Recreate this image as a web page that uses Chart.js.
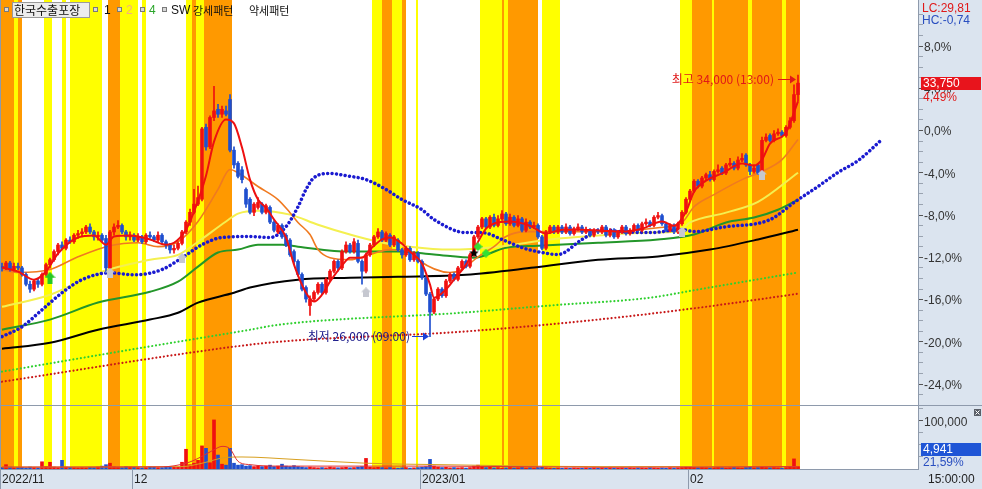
<!DOCTYPE html>
<html>
<head>
<meta charset="utf-8">
<script src="https://cdn.jsdelivr.net/npm/chart.js@4.4.1/dist/chart.umd.min.js"></script>
<style>
  html, body { margin: 0; padding: 0; background: #fff; }
  canvas { display: block; }
</style>
</head>
<body>
<canvas id="chart" width="982" height="489" style="width:982px;height:489px"></canvas>
<script>
// price that is shown as 0,0% on the right axis
const BASE = 32300;

// month labels on the time axis (bar index where each month starts)
const monthStarts = [0, 33, 105, 172];
const monthLabels = ['2022/11', '12', '2023/01', '02'];

// percent ticks of the price axis
const majorPct = [-24, -20, -16, -12, -8, -4, 0, 4, 8];

// candles: [open, high, low, close]
const candles = [
  [28150,28250,28000,28100],[28100,28300,28050,28250],[28250,28300,28000,28050],[28050,28250,28000,28150],[28150,28250,28050,28100],
  [28100,28150,27850,27900],[27900,27950,27550,27600],[27600,27700,27350,27450],[27450,27750,27400,27700],[27700,27750,27500,27600],
  [27600,27950,27550,27900],[27900,28250,27850,28200],[28200,28400,28100,28350],[28350,28650,28300,28600],[28600,28850,28500,28800],
  [28800,28900,28650,28700],[28700,29000,28650,28950],[28950,29050,28850,28900],[28900,29150,28850,29100],[29100,29250,29000,29150],
  [29150,29300,29050,29200],[29200,29400,29150,29350],[29350,29450,29150,29200],[29200,29250,28950,29050],[29050,29200,28950,29100],
  [29100,29150,28900,28950],[29000,29100,27950,28100],[28100,29250,28050,29200],[29200,29450,29100,29350],[29350,29550,29300,29400],
  [29400,29450,29150,29200],[29200,29250,28950,29050],[29050,29200,28950,29100],[29100,29150,28900,28950],[28950,29150,28900,29050],
  [29050,29100,28850,28900],[28900,29150,28850,29100],[29100,29200,29000,29050],[29050,29100,28900,28950],[28950,29200,28900,29100],
  [29100,29150,28850,28900],[28900,28950,28700,28800],[28800,28850,28550,28650],[28650,28800,28550,28700],[28700,28900,28650,28850],
  [28850,29250,28800,29200],[29200,29550,29150,29500],[29500,29900,29400,29800],[29800,30500,29750,30050],[30050,30600,30000,30250],
  [30200,32400,30150,32350],[32400,32500,31700,31800],[31800,32750,31750,32700],[32700,33650,32600,32900],[32950,33100,32700,32800],
  [32800,33050,32700,32950],[32900,33050,32750,32800],[33250,33400,31650,31700],[31700,31800,31150,31250],[31300,31350,30850,30900],
  [31100,31200,30700,30800],[30500,30550,29950,30050],[30200,30250,29750,29800],[29800,30100,29700,30050],[29950,30250,29900,30100],
  [30050,30100,29750,29800],[29800,30050,29750,30000],[29950,30000,29450,29500],[29500,29550,29200,29250],[29200,29450,29150,29400],
  [29400,29450,29000,29050],[29100,29150,28750,28800],[28950,29000,28450,28500],[28600,28650,28200,28300],[28300,28350,27850,27900],
  [27900,27950,27400,27450],[27500,27550,27050,27150],[26950,27250,26650,27150],[27150,27400,27100,27350],[27350,27650,27300,27600],
  [27600,27650,27300,27350],[27350,27800,27300,27750],[27750,28050,27700,28000],[28000,28350,27950,28300],[28300,28350,28000,28100],
  [28100,28650,28050,28600],[28600,28900,28550,28800],[28800,28850,28550,28600],[28600,29000,28550,28900],[28850,28950,28250,28300],
  [28300,28350,27600,28000],[28000,28550,27950,28500],[28500,28850,28450,28800],[28800,29100,28750,29050],[29050,29300,29000,29200],
  [29200,29250,28900,28950],[28950,29200,28900,29150],[29100,29150,28750,28800],[28800,29100,28750,29050],[28950,29000,28600,28650],
  [28650,28700,28400,28500],[28500,28750,28450,28700],[28700,28750,28300,28350],[28350,28600,28300,28550],[28550,28600,28250,28300],
  [28300,28350,27750,27800],[27800,27850,27250,27300],[27300,27350,26000,26750],[26750,27200,26700,27150],[27150,27500,27100,27450],
  [27450,27500,27200,27250],[27250,27750,27200,27700],[27700,27950,27650,27900],[27900,27950,27700,27750],[27750,28150,27700,28100],
  [28100,28350,28050,28300],[28300,28350,28100,28150],[28150,28550,28100,28500],[28500,29100,28450,29050],[29050,29400,29000,29350],
  [29350,29650,29300,29600],[29600,29650,29300,29350],[29350,29700,29300,29650],[29650,29750,29350,29400],[29400,29700,29350,29600],
  [29600,29850,29550,29750],[29750,29800,29400,29450],[29450,29750,29400,29650],[29650,29700,29350,29400],[29400,29700,29350,29600],
  [29600,29650,29200,29250],[29250,29600,29200,29500],[29500,29550,29300,29350],[29350,29500,29300,29400],[29400,29450,29000,29050],
  [29050,29100,28650,28700],[28700,29250,28650,29200],[29200,29400,29150,29350],[29350,29400,29150,29200],[29200,29400,29150,29350],
  [29350,29400,29150,29200],[29200,29450,29150,29350],[29350,29400,29100,29150],[29150,29350,29100,29300],[29300,29450,29250,29350],
  [29350,29400,29150,29200],[29200,29350,29150,29250],[29250,29300,29050,29100],[29100,29300,29050,29250],[29250,29300,29150,29200],
  [29200,29400,29150,29350],[29350,29400,29050,29100],[29100,29300,29050,29250],[29250,29300,29000,29050],[29050,29250,29000,29200],
  [29200,29400,29150,29350],[29350,29400,29100,29150],[29150,29300,29100,29250],[29250,29450,29200,29400],[29400,29450,29200,29250],
  [29250,29500,29200,29450],[29450,29600,29400,29500],[29500,29550,29350,29400],[29400,29700,29350,29650],[29650,29800,29600,29700],
  [29700,29750,29400,29450],[29450,29500,29200,29250],[29250,29450,29200,29400],[29400,29450,29150,29200],[29200,29500,29150,29450],
  [29450,29850,29400,29800],[29800,30250,29750,30200],[30200,30500,30150,30450],[30450,30800,30400,30750],[30750,30800,30550,30600],
  [30600,30900,30550,30850],[30850,31000,30800,30950],[30950,31050,30750,30800],[30800,31100,30750,31050],[31050,31250,31000,31100],
  [31150,31200,30950,31000],[31000,31300,30950,31250],[31250,31450,31200,31300],[31300,31350,31100,31150],[31150,31500,31100,31400],
  [31400,31600,31350,31450],[31550,31600,31200,31250],[31250,31300,30950,31050],[31050,31250,31000,31150],[31250,31300,30950,31000],
  [31000,32100,30950,32000],[32000,32200,31950,32100],[32150,32200,31950,32000],[32000,32300,31950,32200],[32200,32350,32150,32250],
  [32250,32300,32100,32150],[32150,32450,32100,32400],[32400,32700,32350,32600],[32600,33700,32550,33400],[33400,34000,33200,33750]
];

const volumes = [
  3000, 9000, 4000, 2500, 3000, 3500, 2500, 4000, 3000, 2500,
  15000, 5000, 14000, 4000, 3000, 18000, 4000, 3500, 3000, 2500,
  3000, 2500, 3500, 3000, 4000, 6000, 9000, 12000, 5000, 4000,
  3000, 5000, 4000, 3500, 3000, 2500, 3000, 4000, 3500, 3000,
  3000, 4000, 5000, 4000, 3500, 14000, 41000, 9000, 12000, 18000,
  48000, 43000, 13000, 102000, 29000, 10000, 8000, 43000, 12000, 8000,
  9000, 6000, 7000, 5000, 6000, 5000, 6000, 8000, 5000, 6000,
  10000, 6000, 5000, 7000, 5000, 4000, 3000, 4000, 3000, 2500,
  3000, 2500, 4000, 3000, 2500, 3000, 3500, 2500, 3000, 4000,
  5000, 22000, 4000, 3000, 3500, 3000, 2500, 3000, 2500, 2000,
  2500, 3000, 2000, 2500, 3000, 4000, 5000, 20000, 6000, 4000,
  3000, 3500, 2500, 3000, 2500, 3000, 2000, 3000, 6000, 8000,
  5000, 3000, 3500, 2500, 3000, 2000, 2500, 3000, 2000, 2500,
  3000, 2000, 2500, 2000, 3000, 3500, 2500, 2000, 1500, 2000,
  1500, 2000, 1500, 2000, 1500, 1500, 2000, 1500, 2000, 1500,
  2000, 1500, 2000, 1500, 1500, 2000, 1500, 2000, 1500, 2000,
  2000, 1500, 2500, 2000, 1500, 2000, 1500, 2500, 2000, 2500,
  3000, 4000, 3500, 3000, 2500, 3000, 2500, 2000, 2500, 3000,
  2500, 2000, 2500, 3000, 2500, 2000, 3000, 3500, 2500, 3000,
  4000, 3000, 2500, 3000, 2500, 2000, 3000, 4000, 21000, 4941
];

// background pattern bands, in bar units [from, to]
const yellowBands = [[3,4],[10.5,12.5],[15,16],[17,25],[29.5,34],[35,36],[46,47.5],[48.5,50.5],[92.5,95],[97.5,100],
  [103.5,104],[119.5,125],[125.5,126.5],[135,139.5],[169.5,172.5],[177.5,178],[186.5,187.5],[195,196]];
const orangeBands = [[-0.5,3],[4,5],[26.5,29.5],[47.5,48.5],[50.5,57.5],[95,97.5],[100,101],[125,125.5],[126.5,134],
  [172.5,177.5],[178,186.5],[187.5,195],[196,199.5]];

// moving average lines: [bar, price]
const ma1 = [[0,28110],[4,27990],[8,27740],[11,27990],[14,28540],[19,29030],[23,29090],[26,28810],[28,29060],[32,29090],
  [37,28970],[41,28810],[43,28870],[46,29270],[48,29820],[51,30920],[53,31960],[56,32640],[58,32520],[60,31780],
  [62,30800],[64,30190],[66,29940],[68,29580],[71,29030],[73,28200],[76,27340],[78,27070],[80,27280],[82,27680],
  [85,28170],[87,28410],[90,28410],[92,28660],[95,28970],[97,29030],[100,28840],[102,28600],[105,28230],[107,27590],
  [108,27190],[111,27440],[113,27740],[116,28200],[118,28660],[121,29300],[123,29460],[127,29520],[132,29390],[136,29150],
  [140,29270],[145,29270],[150,29240],[155,29210],[160,29300],[165,29520],[168,29390],[171,29820],[173,30430],[176,30770],
  [180,30990],[185,31290],[188,31230],[190,31410],[192,31900],[196,32240],[199,33190]];
const ma2 = [[0,28050],[4,27960],[12,28050],[19,28440],[27,28780],[34,28870],[39,28750],[44,28900],[49,29520],[54,30500],
  [57,31110],[59,31010],[64,30590],[69,30190],[72,29790],[74,29490],[77,29120],[79,28660],[82,28410],[87,28350],
  [92,28510],[97,28660],[102,28600],[104,28350],[112,27960],[115,28050],[119,28440],[123,28750],[126,29060],[131,29210],
  [136,29210],[150,29210],[164,29330],[170,29490],[173,29970],[178,30340],[185,30800],[190,31050],[195,31410],[199,32030]];
const ma3 = [[0,26910],[12,27280],[24,27950],[37,28350],[44,28500],[49,28900],[56,29520],[59,29760],[64,29850],[72,29730],
  [79,29420],[87,29120],[94,28900],[102,28750],[112,28660],[124,28750],[137,28970],[149,29090],[162,29180],[169,29210],
  [172,29490],[181,29790],[189,30120],[199,31010]];
const ma4 = [[0,26210],[12,26520],[24,27040],[37,27370],[44,27680],[49,28140],[54,28570],[59,28660],[64,28810],[70,28810],
  [74,28750],[87,28600],[99,28600],[108,28510],[118,28410],[126,28720],[134,28780],[149,28870],[164,28970],[173,29120],
  [181,29490],[188,29640],[194,29880],[199,30190]];
const ma5 = [[0,25630],[12,25810],[24,26210],[37,26520],[44,26730],[49,27040],[58,27340],[62,27500],[74,27740],[87,27800],
  [99,27830],[116,27890],[133,28110],[149,28350],[164,28450],[177,28660],[189,28970],[199,29270]];
const leadLine = [[0,26000],[5,26300],[10,26820],[15,27340],[20,27740],[27,27950],[33,27890],[40,28050],[45,28410],[50,28810],
  [55,29030],[62,29060],[67,29030],[71,29360],[74,29970],[76,30500],[78,30860],[82,30990],[86,30920],[91,30800],
  [96,30500],[100,30190],[105,29880],[108,29580],[116,29180],[120,29180],[125,28970],[130,28720],[135,28570],[139,28510],
  [145,28970],[150,29270],[155,29210],[162,29180],[170,29270],[173,29210],[181,29360],[190,29490],[193,29640],[198,30100],
  [204,30590],[209,31020],[214,31380],[220,32030]];
const greenDots = [[0,24930],[35,25660],[62,26210],[69,26360],[115,26730],[137,26950],[162,27190],[174,27440],[199,27960]];
const redDots = [[0,24620],[56,25660],[69,25840],[115,26150],[149,26520],[174,26880],[199,27310]];

// volume averages: [bar, shares]
const volAvgShort = [[0,4000],[40,4500],[46,12000],[49,22000],[53,40000],[55,47000],[57,42000],[59,16000],[62,9000],[70,6000],
  [90,6000],[110,6000],[150,3500],[199,5000]];
const volAvgLong = [[0,4000],[45,5000],[50,12000],[56,24000],[60,25000],[73,20000],[91,12000],[110,9000],[150,5000],[199,5000]];

// signal marks: [bar, price]
const upArrows = [[12,27800]];
const grayMarks = [[27,27950],[45,28400],[91,27350],[170,29200],[190,30950]];
const starMarks = [[118,28550]];
const diamondMarks = [[119,28750],[121,28550]];

const RED = '#f01010';
const BLUE = '#1f4fcf';
const AXIS_BG = '#dbe4ef';
const LINE_GRAY = '#8e9aac';

const pts = arr => arr.map(([x, y]) => ({ x, y }));
const colorOf = candles.map(c => c[3] >= c[0] ? RED : BLUE);
const minorPct = [];
for (let p = -25; p <= 11; p++) minorPct.push(p);
const pctLabel = (p, d = 1) => p.toFixed(d).replace('.', ',') + '%';
const priceAt = p => BASE * (1 + p / 100);

function icon(w, h, draw) {
  const c = document.createElement('canvas');
  c.width = w; c.height = h;
  draw(c.getContext('2d'));
  return c;
}
const arrowIcon = icon(11, 12, g => {
  g.fillStyle = '#25c825';
  g.beginPath();
  g.moveTo(5.5, 0); g.lineTo(11, 6); g.lineTo(8, 6); g.lineTo(8, 12); g.lineTo(3, 12); g.lineTo(3, 6); g.lineTo(0, 6);
  g.closePath(); g.fill();
});
const grayIcon = icon(10, 10, g => {
  g.fillStyle = '#c6c8d0';
  g.beginPath();
  g.moveTo(5, 0); g.lineTo(10, 4.5); g.lineTo(8, 4.5); g.lineTo(8, 10); g.lineTo(2, 10); g.lineTo(2, 4.5); g.lineTo(0, 4.5);
  g.closePath(); g.fill();
});
const starIcon = icon(10, 10, g => {
  g.fillStyle = '#000';
  g.beginPath();
  for (let k = 0; k < 10; k++) {
    const r = k % 2 ? 2.2 : 5, a = -Math.PI / 2 + k * Math.PI / 5;
    g.lineTo(5 + r * Math.cos(a), 5 + r * Math.sin(a));
  }
  g.closePath(); g.fill();
});
const diamondIcon = icon(9, 9, g => {
  g.fillStyle = '#33e033';
  g.beginPath();
  g.moveTo(4.5, 0); g.lineTo(9, 4.5); g.lineTo(4.5, 9); g.lineTo(0, 4.5);
  g.closePath(); g.fill();
});

const line = (data, color, width, order, extra = {}) => Object.assign({
  type: 'line', data: pts(data), borderColor: color, borderWidth: width, pointRadius: 0,
  fill: false, cubicInterpolationMode: 'monotone', order
}, extra);
const dots = (data, color, width, gap, order, yAxisID = 'y') => line(data, color, width, order, {
  borderDash: [0.01, gap], borderCapStyle: 'round', yAxisID
});
const marks = (data, img, order) => ({
  type: 'line', data: pts(data), showLine: false, pointStyle: img, pointRadius: 5, order
});

const datasets = [
  marks(upArrows, arrowIcon, 0),
  marks(grayMarks, grayIcon, 0),
  marks(starMarks, starIcon, 0),
  marks(diamondMarks, diamondIcon, 0),
  line(ma1, '#ee1010', 2, 1),
  {
    type: 'bar', order: 2, grouped: false, barThickness: 3, minBarLength: 1,
    data: candles.map((c, i) => ({ x: i, y: [c[0], c[3]] })),
    backgroundColor: colorOf
  },
  {
    type: 'bar', order: 3, grouped: false, barThickness: 1,
    data: candles.map((c, i) => ({ x: i, y: [c[2], c[1]] })),
    backgroundColor: colorOf
  },
  dots(leadLine, '#1a1ad0', 3.5, 4.4, 4),
  line(ma2, '#f07a20', 1.6, 5),
  line(ma3, '#f4f050', 2, 6),
  line(ma4, '#23962a', 2, 7),
  line(ma5, '#000000', 2, 8),
  dots(greenDots, '#30d030', 2.2, 3.8, 9),
  dots(redDots, '#c81818', 2.2, 3.8, 10),
  line(volAvgShort, '#e03030', 1, 11, { yAxisID: 'yv' }),
  line(volAvgLong, '#d8a020', 1, 12, { yAxisID: 'yv' }),
  {
    type: 'bar', order: 13, grouped: false, barThickness: 3, yAxisID: 'yv',
    data: volumes.map((v, i) => ({ x: i, y: v })),
    backgroundColor: colorOf
  }
];

function text(ctx, s, x, y, color, font, align = 'left') {
  ctx.fillStyle = color;
  ctx.font = font;
  ctx.textAlign = align;
  ctx.textBaseline = 'middle';
  ctx.fillText(s, x, y);
}

const paint = {
  id: 'paint',
  beforeDraw(chart) {
    const { ctx, chartArea: a } = chart;
    ctx.save();
    ctx.fillStyle = '#fff';
    ctx.fillRect(0, 0, chart.width, chart.height);
    ctx.fillStyle = AXIS_BG;
    ctx.fillRect(a.right, 0, chart.width - a.right, chart.height);
    ctx.fillRect(0, a.bottom, chart.width, chart.height - a.bottom);
    ctx.restore();
  },
  beforeDatasetsDraw(chart) {
    const { ctx, chartArea: a } = chart;
    const x = chart.scales.x;
    ctx.save();
    const band = (list, color) => {
      ctx.fillStyle = color;
      list.forEach(([s, e]) => {
        const x0 = x.getPixelForValue(s), x1 = x.getPixelForValue(e);
        ctx.fillRect(x0, a.top, x1 - x0, a.bottom - a.top);
      });
    };
    band(yellowBands, '#ffff00');
    band(orangeBands, '#ff9900');
    ctx.restore();
  },
  afterDatasetsDraw(chart) {
    const { ctx, chartArea: a } = chart;
    const sep = Math.round(chart.scales.y.bottom) + 0.5;
    ctx.save();
    ctx.strokeStyle = LINE_GRAY;
    ctx.lineWidth = 1;
    ctx.beginPath();
    ctx.moveTo(0, sep); ctx.lineTo(chart.width, sep);
    ctx.moveTo(0.5, 0); ctx.lineTo(0.5, a.bottom);
    ctx.stroke();
    ctx.restore();
  },
  afterDraw(chart) {
    const { ctx } = chart;
    const x = chart.scales.x, y = chart.scales.y, yv = chart.scales.yv;
    const ax = y.left;
    ctx.save();

    // legend row
    const box = (bx) => {
      ctx.fillStyle = '#d8d8d8'; ctx.fillRect(bx, 7, 5, 5);
      ctx.strokeStyle = '#7a7a7a'; ctx.lineWidth = 1; ctx.strokeRect(bx + 0.5, 7.5, 4, 4);
    };
    box(4);
    ctx.fillStyle = '#ececec'; ctx.fillRect(12, 2, 78, 16);
    ctx.strokeStyle = '#9a9a9a'; ctx.strokeRect(12.5, 2.5, 77, 15);
    text(ctx, '한국수출포장', 14, 10.5, '#111', "12px 'Noto Sans CJK KR'");
    box(93); text(ctx, '1', 104, 10.5, '#111', "12px 'Liberation Sans'");
    box(117); text(ctx, '2', 126, 10.5, '#f4b07c', "12px 'Liberation Sans'");
    box(140); text(ctx, '4', 149, 10.5, '#2aa62a', "12px 'Liberation Sans'");
    box(162); text(ctx, 'SW', 171, 10.5, '#111', "12px 'Liberation Sans'");
    text(ctx, '강세패턴', 193, 10.5, '#111', "11px 'Noto Sans CJK KR'");
    text(ctx, '약세패턴', 249, 10.5, '#111', "11px 'Noto Sans CJK KR'");

    // right axis captions
    text(ctx, 'LC:29,81', ax + 4, 8.5, '#e01818', "12px 'Liberation Sans'");
    text(ctx, 'HC:-0,74', ax + 4, 20.5, '#2a4fc0', "12px 'Liberation Sans'");
    const last = candles[candles.length - 1];
    const py = y.getPixelForValue(last[3]);
    ctx.fillStyle = '#e8141c';
    ctx.fillRect(ax + 3, Math.round(py) - 6, 60, 13);
    text(ctx, last[3].toLocaleString('en-US'), ax + 5, py + 1, '#fff', "12px 'Liberation Sans'");
    text(ctx, pctLabel((last[3] / BASE - 1) * 100, 2), ax + 5, py + 15, '#e01818', "12px 'Liberation Sans'");

    const vy = yv.bottom - 20;
    ctx.fillStyle = '#1f55d6';
    ctx.fillRect(ax + 3, Math.round(vy) - 6, 60, 13);
    text(ctx, volumes[volumes.length - 1].toLocaleString('en-US'), ax + 5, vy + 1, '#fff', "12px 'Liberation Sans'");
    text(ctx, '21,59%', ax + 5, vy + 14, '#2a4fc0', "12px 'Liberation Sans'");

    // small close button of the volume pane
    ctx.fillStyle = '#5a5f68';
    ctx.fillRect(974, yv.top + 4, 7, 7);
    ctx.strokeStyle = '#fff'; ctx.lineWidth = 1;
    ctx.beginPath();
    ctx.moveTo(975.5, yv.top + 5.5); ctx.lineTo(979.5, yv.top + 9.5);
    ctx.moveTo(979.5, yv.top + 5.5); ctx.lineTo(975.5, yv.top + 9.5);
    ctx.stroke();

    text(ctx, '15:00:00', ax + 10, (x.top + chart.height) / 2 + 0.5, '#222', "12px 'Liberation Sans'");

    // high / low notes
    const arrow = (x0, x1, yy, color) => {
      ctx.strokeStyle = color; ctx.fillStyle = color; ctx.lineWidth = 1;
      ctx.beginPath(); ctx.moveTo(x0, yy + 0.5); ctx.lineTo(x1 - 5, yy + 0.5); ctx.stroke();
      ctx.beginPath(); ctx.moveTo(x1, yy + 0.5); ctx.lineTo(x1 - 6, yy - 3.5); ctx.lineTo(x1 - 6, yy + 4.5); ctx.closePath(); ctx.fill();
    };
    const hiX = x.getPixelForValue(199), hiY = Math.round(y.getPixelForValue(34000)) + 4;
    arrow(hiX - 20, hiX - 2, hiY, '#e01818');
    text(ctx, '최고 34,000 (13:00)', hiX - 24, hiY, '#e01818', "12px 'Noto Sans CJK KR'", 'right');
    const loX = x.getPixelForValue(107), loY = Math.round(y.getPixelForValue(26000)) - 1;
    arrow(loX - 18, loX - 1, loY, '#1a3fd8');
    text(ctx, '최저 26,000 (09:00)', loX - 20, loY, '#1c1c8c', "12px 'Noto Sans CJK KR'", 'right');

    ctx.restore();
  }
};

new Chart(document.getElementById('chart'), {
  type: 'bar',
  data: { datasets },
  options: {
    responsive: false,
    animation: false,
    events: [],
    layout: { padding: 0, autoPadding: false },
    plugins: { legend: { display: false }, tooltip: { enabled: false } },
    scales: {
      x: {
        type: 'linear', min: -0.5, max: 229, offset: false,
        afterBuildTicks: s => { s.ticks = monthStarts.map(v => ({ value: v - 0.5 })); },
        afterFit: s => { s.height = 20; s.paddingLeft = 0; s.paddingRight = 0; },
        grid: { display: true, drawOnChartArea: false, drawTicks: true, tickLength: 20, color: LINE_GRAY, offset: false },
        border: { display: true, color: LINE_GRAY },
        ticks: {
          autoSkip: false, maxRotation: 0, align: 'start', labelOffset: 2, padding: -17,
          color: '#222', font: { size: 12, family: 'Liberation Sans' },
          callback: (v, i) => monthLabels[i]
        }
      },
      y: {
        position: 'right', stack: 'pane', stackWeight: 405,
        min: priceAt(-25.98), max: priceAt(12.36),
        afterBuildTicks: s => { s.ticks = minorPct.map(p => ({ value: priceAt(p) })); },
        afterFit: s => { s.width = 64; s.paddingTop = 0; s.paddingBottom = 0; },
        grid: {
          drawOnChartArea: false, tickLength: 5,
          tickColor: c => majorPct.includes(minorPct[c.index]) ? '#555' : '#9aa3b0'
        },
        border: { color: LINE_GRAY },
        ticks: {
          autoSkip: false, padding: 1, labelOffset: 1.5, color: '#333', font: { size: 12, family: 'Liberation Sans' },
          callback: (v, i) => majorPct.includes(minorPct[i]) ? pctLabel(minorPct[i]) : ''
        }
      },
      yv: {
        position: 'right', stack: 'pane', stackWeight: 64,
        min: 0, max: 133000,
        afterBuildTicks: s => { s.ticks = [25000, 50000, 75000, 100000, 125000].map(v => ({ value: v })); },
        afterFit: s => { s.width = 64; s.paddingTop = 0; s.paddingBottom = 0; },
        grid: {
          drawOnChartArea: false, tickLength: 5,
          tickColor: c => c.index === 3 ? '#555' : '#9aa3b0'
        },
        border: { color: LINE_GRAY },
        ticks: {
          autoSkip: false, padding: 1, labelOffset: 1.5, color: '#333', font: { size: 12, family: 'Liberation Sans' },
          callback: v => v === 100000 ? '100,000' : ''
        }
      }
    }
  },
  plugins: [paint]
});
</script>
</body>
</html>
